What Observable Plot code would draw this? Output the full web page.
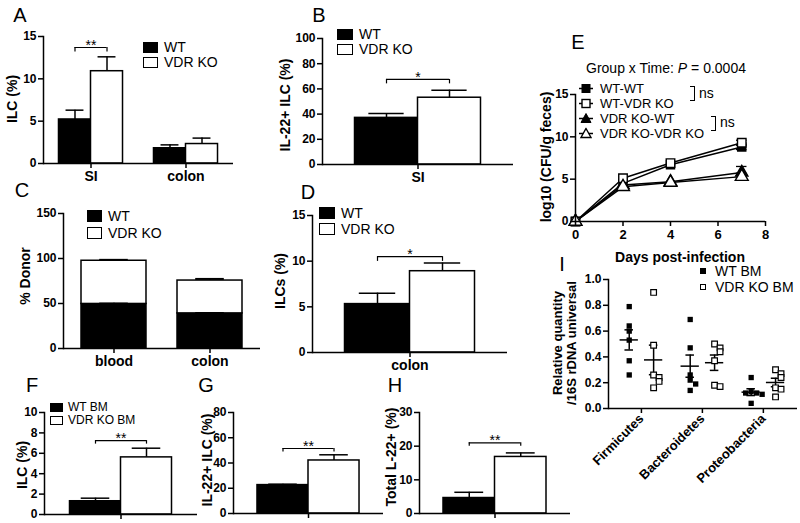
<!DOCTYPE html>
<html><head><meta charset="utf-8">
<script src="https://cdn.jsdelivr.net/npm/d3@7"></script>
<script src="https://cdn.jsdelivr.net/npm/@observablehq/plot@0.6"></script>
<style>
html,body{margin:0;padding:0;background:#fff;}
#fig{position:relative;width:800px;height:523px;overflow:hidden;background:#fff;font-family:"Liberation Sans",Arial,sans-serif;color:#000;}
.t{position:absolute;white-space:nowrap;line-height:1;}
.sw{position:absolute;box-sizing:border-box;border:1.5px solid #000;}
</style></head><body><div id="fig"></div>
<script>
// ---------------- DATA ----------------
// Panel A
const A_categories = ["SI", "colon"];
const A_wt = [5.2, 1.8], A_wtErr = [1.1, 0.4];
const A_ko = [10.9, 2.3], A_koErr = [1.7, 0.7];
const A_yTicks = [0, 5, 10, 15];
const A_sig = [{cat: "SI", y: 13.7, text: "**"}];
// Panel B
const B_categories = ["SI"];
const B_wt = [37], B_wtErr = [3.5];
const B_ko = [53], B_koErr = [6];
const B_yTicks = [0, 20, 40, 60, 80, 100];
const B_sig = [{cat: "SI", y: 67.5, text: "*"}];
// Panel C (stacked)
const C_categories = ["blood", "colon"];
const C_wt = [49.5, 39], C_wtErr = [0.7, 0.7];
const C_ko = [48, 36.5], C_totalErr = [1.0, 1.8];
const C_yTicks = [0, 50, 100, 150];
// Panel D
const D_categories = ["colon"];
const D_wt = [5.3], D_wtErr = [1.2];
const D_ko = [8.9], D_koErr = [0.9];
const D_yTicks = [0, 5, 10, 15];
const D_sig = [{cat: "colon", y: 10.5, text: "*"}];
// Panel E
const E_days = [0, 2, 4, 7];
const E_names = ["WT-WT", "WT-VDR KO", "VDR KO-WT", "VDR KO-VDR KO"];
const E_WT_WT = [0, 4.5, 6.7, 8.8];
const E_WT_KO = [0, 5.1, 6.9, 9.3];
const E_KO_WT = [0, 4.3, 4.7, 5.8];
const E_KO_KO = [0, 4.1, 4.6, 5.3];
const E_err = [[0, 0.2, 0.2, 0.3], [0, 0.2, 0.2, 0.3], [0, 0.2, 0.2, 0.7], [0, 0.2, 0.2, 0.4]];
const E_xTicks = [0, 2, 4, 6, 8];
const E_yTicks = [0, 5, 10, 15];
// Panel F
const F_categories = ["BM"];
const F_wt = [1.3], F_wtErr = [0.3];
const F_ko = [5.6], F_koErr = [0.9];
const F_yTicks = [0, 2, 4, 6, 8, 10];
const F_sig = [{cat: "BM", y: 7.25, text: "**"}];
// Panel G
const G_categories = ["BM"];
const G_wt = [22.5], G_wtErr = [0.7];
const G_ko = [42], G_koErr = [4.5];
const G_yTicks = [0, 20, 40, 60, 80];
const G_sig = [{cat: "BM", y: 51.5, text: "**"}];
// Panel H
const H_categories = ["BM"];
const H_wt = [4.6], H_wtErr = [1.7];
const H_ko = [16.8], H_koErr = [1.2];
const H_yTicks = [0, 10, 20, 30];
const H_sig = [{cat: "BM", y: 21, text: "**"}];
// Panel I
const I_categories = ["Firmicutes", "Bacteroidetes", "Proteobacteria"];
const I_wt = [[0.79, 0.64, 0.60, 0.53, 0.37, 0.26], [0.69, 0.47, 0.26, 0.22, 0.19, 0.14], [0.24, 0.13, 0.12, 0.12, 0.11, 0.04]];
const I_ko = [[0.90, 0.49, 0.26, 0.24, 0.21, 0.16], [0.50, 0.47, 0.44, 0.37, 0.18, 0.17], [0.30, 0.27, 0.24, 0.16, 0.15, 0.09]];
const I_yTicks = [0, 0.2, 0.4, 0.6, 0.8, 1.0];

// ---------------- HELPERS ----------------
const fig = document.getElementById("fig");
const STYLE = {background: "transparent", color: "black", fontFamily: "Liberation Sans, Arial, sans-serif", overflow: "visible"};
function place(svg, left, top) {
  svg.style.position = "absolute"; svg.style.left = left + "px"; svg.style.top = top + "px";
  fig.appendChild(svg);
}
function txt(html, x, y, css = {}, anchor = "center") {
  const d = document.createElement("div"); d.className = "t"; d.innerHTML = html;
  const tr = anchor === "center" ? "translate(-50%,-50%)" : "translate(0,-50%)";
  Object.assign(d.style, {left: x + "px", top: y + "px", transform: tr}, css);
  fig.appendChild(d); return d;
}
function ytitle(html, cx, cy, size = 14) {
  const d = txt(html, cx, cy, {fontSize: size + "px", fontWeight: "bold"});
  d.style.transform = "translate(-50%,-50%) rotate(-90deg)"; return d;
}
function swatch(x, y, w, h, fill, bw = 1.5) {
  const d = document.createElement("div"); d.className = "sw";
  Object.assign(d.style, {left: x + "px", top: y + "px", width: w + "px", height: h + "px", background: fill, borderWidth: bw + "px"});
  fig.appendChild(d);
}
function letter(s, x, y) { txt(s, x, y, {fontSize: "20px"}); }
function legend2(x, y1, y2, labels, size, sw, sh, gap) {
  swatch(x, y1 - sh / 2, sw, sh, "black");
  swatch(x, y2 - sh / 2, sw, sh, "white");
  txt(labels[0], x + sw + gap, y1, {fontSize: size + "px"}, "left");
  txt(labels[1], x + sw + gap, y2, {fontSize: size + "px"}, "left");
}
function axesY(ticks, fmt) {
  return Plot.axisY({ticks, tickSize: 5, tickPadding: 2, fontSize: 12, fontWeight: "bold", strokeWidth: 1.5, label: null, ...(fmt ? {tickFormat: fmt} : {})});
}

function barPanel(c) {
  const w = c.width, h = c.height;
  const band = d3.scaleBand().domain(c.cats).range([c.mL, w - c.mR]).paddingInner(c.pIn).paddingOuter(c.pOut);
  const bw = band.bandwidth(), q = bw / 4, cap = bw * 0.14;
  const W = c.cats.map((k, i) => ({cat: k, mean: c.wt[i], top: c.wt[i] + c.wtErr[i]}));
  const K = c.cats.map((k, i) => ({cat: k, mean: c.ko[i], top: c.ko[i] + c.koErr[i]}));
  const t = c.yMax * 0.035;
  const S = c.sig || [];
  const svg = Plot.plot({
    width: w, height: h, marginLeft: c.mL, marginRight: c.mR, marginTop: c.mT, marginBottom: c.mB,
    x: {type: "band", domain: c.cats, paddingInner: c.pIn, paddingOuter: c.pOut, round: false, label: null},
    y: {domain: [0, c.yMax], label: null},
    style: STYLE,
    marks: [
      Plot.ruleX(W, {x: "cat", y1: "mean", y2: "top", dx: -q, strokeWidth: 1.5}),
      Plot.ruleX(K, {x: "cat", y1: "mean", y2: "top", dx: q, strokeWidth: 1.5}),
      Plot.tickY(W, {x: "cat", y: "top", insetLeft: q - cap, insetRight: bw - q - cap, strokeWidth: 1.5}),
      Plot.tickY(K, {x: "cat", y: "top", insetLeft: 3 * q - cap, insetRight: q - cap, strokeWidth: 1.5}),
      Plot.barY(W, {x: "cat", y: "mean", fill: "black", stroke: "black", strokeWidth: 1.5, insetRight: bw / 2}),
      Plot.barY(K, {x: "cat", y: "mean", fill: "white", stroke: "black", strokeWidth: 1.5, insetLeft: bw / 2}),
      Plot.tickY(S, {x: "cat", y: "y", insetLeft: q, insetRight: q, strokeWidth: 1.2}),
      Plot.ruleX(S, {x: "cat", y1: "y", y2: d => d.y - t, dx: -q, strokeWidth: 1.2}),
      Plot.ruleX(S, {x: "cat", y1: "y", y2: d => d.y - t, dx: q, strokeWidth: 1.2}),
      Plot.text(S, {x: "cat", y: "y", text: "text", dy: -2, fontSize: 14}),
      Plot.ruleY([0], {strokeWidth: 1.5}),
      Plot.frame({anchor: "left", strokeWidth: 1.5}),
      axesY(c.yTicks),
      Plot.axisX({tickSize: 5, tickPadding: 3, fontSize: 14, fontWeight: "bold", strokeWidth: 1.5, label: null,
        ...(c.hideCat ? {tickFormat: () => ""} : {})})
    ]
  });
  place(svg, c.left, c.top);
}

// ---------------- PANELS ----------------
// A
barPanel({left: 0, top: 0, width: 240, height: 190, mL: 43, mR: 7, mT: 36, mB: 27, pIn: 0.326, pOut: 0.163,
  cats: A_categories, wt: A_wt, wtErr: A_wtErr, ko: A_ko, koErr: A_koErr, yMax: 15, yTicks: A_yTicks, sig: A_sig});
letter("A", 20, 15);
ytitle("ILC (%)", 12, 99);
legend2(143, 47, 62, ["WT", "VDR KO"], 14, 15, 11, 6);

// B
barPanel({left: 260, top: 0, width: 260, height: 190, mL: 62, mR: 7, mT: 38, mB: 26, pIn: 0, pOut: 0.258,
  cats: B_categories, wt: B_wt, wtErr: B_wtErr, ko: B_ko, koErr: B_koErr, yMax: 100, yTicks: B_yTicks, sig: B_sig});
letter("B", 319, 15);
ytitle("IL-22+ ILC (%)", 285, 105);
legend2(337, 34, 49, ["WT", "VDR KO"], 14, 16, 11, 6);

// C (stacked)
(function () {
  const w = 270, h = 190, mL = 63, mR = 10, mT = 23, mB = 32, pIn = 0.323, pOut = 0.1875;
  const band = d3.scaleBand().domain(C_categories).range([mL, w - mR]).paddingInner(pIn).paddingOuter(pOut);
  const bw = band.bandwidth(), cap = bw * 0.22;
  const rows = C_categories.flatMap((k, i) => [{cat: k, group: "WT", v: C_wt[i]}, {cat: k, group: "VDR KO", v: C_ko[i]}]);
  const wtE = C_categories.map((k, i) => ({cat: k, y1: C_wt[i], y2: C_wt[i] + C_wtErr[i]}));
  const totE = C_categories.map((k, i) => ({cat: k, y1: C_wt[i] + C_ko[i], y2: C_wt[i] + C_ko[i] + C_totalErr[i]}));
  const svg = Plot.plot({
    width: w, height: h, marginLeft: mL, marginRight: mR, marginTop: mT, marginBottom: mB,
    x: {type: "band", domain: C_categories, paddingInner: pIn, paddingOuter: pOut, round: false, label: null},
    y: {domain: [0, 150], label: null},
    color: {domain: ["WT", "VDR KO"], range: ["black", "white"]},
    style: STYLE,
    marks: [
      Plot.barY(rows, {x: "cat", y: "v", fill: "group", stroke: "black", strokeWidth: 1.5}),
      Plot.ruleX(wtE, {x: "cat", y1: "y1", y2: "y2", stroke: "black", strokeWidth: 1.5}),
      Plot.tickY(wtE, {x: "cat", y: "y2", insetLeft: bw / 2 - cap, insetRight: bw / 2 - cap, strokeWidth: 1.5}),
      Plot.ruleX(totE, {x: "cat", y1: "y1", y2: "y2", strokeWidth: 1.5}),
      Plot.tickY(totE, {x: "cat", y: "y2", insetLeft: bw / 2 - cap, insetRight: bw / 2 - cap, strokeWidth: 2}),
      Plot.ruleY([0], {strokeWidth: 1.5}),
      Plot.frame({anchor: "left", strokeWidth: 1.5}),
      axesY(C_yTicks),
      Plot.axisX({tickSize: 5, tickPadding: 3, fontSize: 14, fontWeight: "bold", strokeWidth: 1.5, label: null})
    ]
  });
  place(svg, 0, 190);
})();
letter("C", 22, 190);
ytitle("% Donor", 25, 276);
legend2(87, 216, 233, ["WT", "VDR KO"], 14, 15, 12, 6);

// D
barPanel({left: 260, top: 190, width: 260, height: 190, mL: 52, mR: 13, mT: 25, mB: 28, pIn: 0, pOut: 0.25,
  cats: D_categories, wt: D_wt, wtErr: D_wtErr, ko: D_ko, koErr: D_koErr, yMax: 15, yTicks: D_yTicks, sig: D_sig});
letter("D", 308, 192);
ytitle("ILCs (%)", 280, 281);
legend2(319, 213, 229, ["WT", "VDR KO"], 14, 16, 12, 6);

// E
(function () {
  const series = [E_WT_WT, E_WT_KO, E_KO_WT, E_KO_KO];
  const filled = [true, false, true, false];
  const rows = series.flatMap((vals, s) => vals.map((v, i) => ({name: E_names[s], day: E_days[i], v, err: E_err[s][i], filled: filled[s]})));
  const errRows = rows.filter(d => d.err > 0.25);
  const svg = Plot.plot({
    width: 270, height: 205, marginLeft: 55, marginRight: 25, marginTop: 34, marginBottom: 44,
    x: {domain: [0, 8], label: null},
    y: {domain: [0, 15], label: null},
    symbol: {domain: E_names, range: ["square", "square", "triangle", "triangle"]},
    style: STYLE,
    marks: [
      Plot.line(rows, {x: "day", y: "v", z: "name", stroke: "black", strokeWidth: 1.5}),
      Plot.ruleX(errRows, {x: "day", y1: d => d.v - d.err, y2: d => d.v + d.err, strokeWidth: 1.3}),
      Plot.ruleY(errRows, {y: d => d.v + d.err, x1: d => d.day - 0.22, x2: d => d.day + 0.22, strokeWidth: 1.3}),
      Plot.ruleY(errRows, {y: d => d.v - d.err, x1: d => d.day - 0.22, x2: d => d.day + 0.22, strokeWidth: 1.3}),
      Plot.dot(rows.filter(d => d.filled), {x: "day", y: "v", symbol: "name", fill: "black", stroke: "black", r: 4.5}),
      Plot.dot(rows.filter(d => !d.filled), {x: "day", y: "v", symbol: "name", fill: "white", stroke: "black", strokeWidth: 1.4, r: 4.8}),
      Plot.ruleY([0], {strokeWidth: 1.5}),
      Plot.frame({anchor: "left", strokeWidth: 1.5}),
      axesY(E_yTicks),
      Plot.axisX({ticks: E_xTicks, tickSize: 5, tickPadding: 3, fontSize: 13, fontWeight: "bold", strokeWidth: 1.5, label: null})
    ]
  });
  place(svg, 520, 60);
  const marker = [
    '<rect x="4" y="2" width="8" height="8" fill="black" stroke="black"/>',
    '<rect x="4" y="2" width="8" height="8" fill="white" stroke="black" stroke-width="1.4"/>',
    '<polygon points="8,1 13,10 3,10" fill="black" stroke="black"/>',
    '<polygon points="8,1 13,10 3,10" fill="white" stroke="black" stroke-width="1.4"/>'
  ];
  E_names.forEach((n, i) => {
    const y = 88 + i * 15;
    txt('<svg width="16" height="12" style="margin-right:6px;flex:none"><line x1="1" x2="15" y1="6" y2="6" stroke="black" stroke-width="1.5"/>' + marker[i] + '</svg>' + n,
      578, y, {fontSize: "13px", display: "flex", alignItems: "center", height: "13px"}, "left");
  });
})();
letter("E", 578, 42);
txt('Group x Time: <i>P</i> = 0.0004', 666, 68, {fontSize: "14px"});
ytitle("log10 (CFU/g feces)", 546, 157);
txt("Days post-infection", 680, 257, {fontSize: "14px", fontWeight: "bold"});
(function () {
  const br = (x, y1, y2) => {
    const d = document.createElement("div");
    Object.assign(d.style, {position: "absolute", left: (x - 5) + "px", top: y1 + "px", width: "5px", height: (y2 - y1) + "px",
      borderTop: "1.2px solid #000", borderRight: "1.2px solid #000", borderBottom: "1.2px solid #000", boxSizing: "border-box"});
    fig.appendChild(d);
  };
  br(695, 86, 101); txt("ns", 699, 93, {fontSize: "14px"}, "left");
  br(716, 116, 131); txt("ns", 720, 122, {fontSize: "14px"}, "left");
})();

// F
barPanel({left: 0, top: 395, width: 200, height: 128, mL: 44, mR: 3, mT: 17, mB: 9, pIn: 0, pOut: 0.25, hideCat: true,
  cats: F_categories, wt: F_wt, wtErr: F_wtErr, ko: F_ko, koErr: F_koErr, yMax: 10, yTicks: F_yTicks, sig: F_sig});
letter("F", 32, 385);
ytitle("ILC (%)", 22, 465);
legend2(50, 407, 420, ["WT BM", "VDR KO BM"], 12, 13, 9, 5);

// G
barPanel({left: 200, top: 395, width: 190, height: 128, mL: 33, mR: 7, mT: 17, mB: 10, pIn: 0, pOut: 0.235, hideCat: true,
  cats: G_categories, wt: G_wt, wtErr: G_wtErr, ko: G_ko, koErr: G_koErr, yMax: 80, yTicks: G_yTicks, sig: G_sig});
letter("G", 206, 385);
ytitle("IL-22+ ILC (%)", 207, 460);

// H
barPanel({left: 390, top: 395, width: 190, height: 128, mL: 29, mR: 10, mT: 17, mB: 10, pIn: 0, pOut: 0.233, hideCat: true,
  cats: H_categories, wt: H_wt, wtErr: H_wtErr, ko: H_ko, koErr: H_koErr, yMax: 30, yTicks: H_yTicks, sig: H_sig});
letter("H", 395, 385);
ytitle("Total L-22+ (%)", 391, 457);

// I
(function () {
  const off = {WT: -0.2, KO: 0.2};
  const pts = [];
  const summ = [];
  const add = (arr, g) => arr.forEach((vals, ci) => {
    const placed = [];
    vals.forEach(v => {
      const k = placed.filter(p => Math.abs(p - v) < 0.035).length;
      const j = k === 0 ? 0 : (k % 2 ? 1 : -1) * Math.ceil(k / 2) * 0.09;
      placed.push(v);
      pts.push({g, pos: ci + off[g] + j, v});
    });
    const m = d3.mean(vals), se = d3.deviation(vals) / Math.sqrt(vals.length);
    summ.push({g, pos: ci + off[g], m, lo: m - se, hi: m + se});
  });
  add(I_wt, "WT"); add(I_ko, "KO");
  const svg = Plot.plot({
    width: 270, height: 258, marginLeft: 78, marginRight: 3, marginTop: 14, marginBottom: 115,
    x: {domain: [-0.54, 2.56], label: null},
    y: {domain: [0, 1], label: null},
    style: STYLE,
    marks: [
      Plot.ruleY(summ, {y: "m", x1: d => d.pos - 0.15, x2: d => d.pos + 0.15, strokeWidth: 1.5}),
      Plot.ruleX(summ, {x: "pos", y1: "lo", y2: "hi", strokeWidth: 1.5}),
      Plot.ruleY(summ, {y: "lo", x1: d => d.pos - 0.07, x2: d => d.pos + 0.07, strokeWidth: 1.5}),
      Plot.ruleY(summ, {y: "hi", x1: d => d.pos - 0.07, x2: d => d.pos + 0.07, strokeWidth: 1.5}),
      Plot.dot(pts.filter(d => d.g === "WT"), {x: "pos", y: "v", symbol: "square", fill: "black", r: 3}),
      Plot.dot(pts.filter(d => d.g === "KO"), {x: "pos", y: "v", symbol: "square", fill: "white", stroke: "black", strokeWidth: 1.2, r: 3.2}),
      Plot.ruleY([0], {strokeWidth: 1.5}),
      Plot.frame({anchor: "left", strokeWidth: 1.5}),
      axesY(I_yTicks, d3.format(".1f")),
      Plot.axisX({ticks: [0, 1, 2], tickFormat: i => I_categories[i], tickRotate: -45, textAnchor: "end",
        tickSize: 5, tickPadding: 3, fontSize: 13, fontWeight: "bold", strokeWidth: 1.5, label: null})
    ]
  });
  place(svg, 530, 265);
})();
letter("I", 562, 264);
(function () {
  const d = ytitle("Relative quantity<br>/16S rDNA universal", 565, 343, 13);
  d.style.textAlign = "center"; d.style.lineHeight = "14px";
  swatch(700, 268, 6, 6, "black", 0);
  swatch(700, 284, 6, 6, "white", 1.2);
  txt("WT BM", 715, 271, {fontSize: "14px"}, "left");
  txt("VDR KO BM", 715, 287, {fontSize: "14px"}, "left");
})();
</script>
</body></html>
